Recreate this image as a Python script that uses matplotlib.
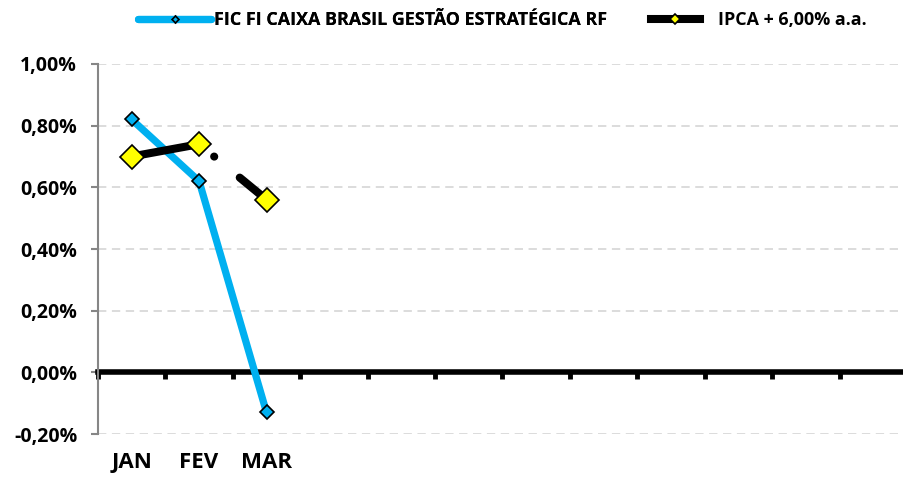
import matplotlib.pyplot as plt
import numpy as np

plt.rcParams['font.family'] = ['Open Sans', 'DejaVu Sans']
plt.rcParams['lines.scale_dashes'] = False

meses = ['JAN', 'FEV', 'MAR', '', '', '', '', '', '', '', '', '']
fundo = [0.82, 0.62, -0.13]
ipca = [0.70, 0.74, 0.56]
nome_fundo = 'FIC FI CAIXA BRASIL GESTÃO ESTRATÉGICA RF'
nome_ipca = 'IPCA + 6,00% a.a.'
yticks = [-0.2, 0.0, 0.2, 0.4, 0.6, 0.8, 1.0]

fig = plt.figure(figsize=(9.04, 4.79), dpi=100)
ax = fig.add_axes([0.1084, 0.0939, 0.8949, 0.7725])

x = np.arange(len(meses))
ax.set_xlim(-0.5, len(meses) - 0.5)
ax.set_ylim(-0.2, 1.0)

# grid
for v in yticks:
    if v != 0:
        ax.axhline(v, color='#D9D9D9', lw=1.3, ls=(0, (6, 4)), zorder=0)

# series
l1, = ax.plot(x[:len(fundo)], fundo, color='#00B0F0', lw=5.2, marker='D', ms=7,
              mfc='#00B0F0', mec='black', mew=1.2, label=nome_fundo, zorder=3,
              solid_capstyle='round', solid_joinstyle='round')
px = 0.72
l2, = ax.plot(x[:len(ipca)], ipca, color='black', lw=5.8, marker='D', ms=12,
              mfc='#FFFF00', mec='black', mew=1.2, label=nome_ipca, zorder=4,
              dash_capstyle='round')
l2.set_linestyle((0, (70 * px, 18 * px, 0.1, 33 * px, 200 * px)))

# axes styling
ax.spines['top'].set_visible(False)
ax.spines['right'].set_visible(False)
ax.spines['left'].set_color('#868686')
ax.spines['left'].set_linewidth(1.5)
ax.spines['bottom'].set_position(('data', 0))
ax.spines['bottom'].set_linewidth(4)
ax.spines['bottom'].set_zorder(2)

ax.set_yticks(yticks)
ax.set_yticklabels([('%.2f%%' % v).replace('.', ',') for v in yticks],
                   fontsize=14, fontweight='bold')
ax.tick_params(axis='y', length=5, width=1.5, color='#868686', pad=10)

ax.set_xticks(np.arange(-0.5, len(meses), 1.0))
ax.set_xticklabels([])
ax.tick_params(axis='x', which='major', length=5, width=3.5, color='black')
ax.set_xticks(x, minor=True)
ax.set_xticklabels(meses, minor=True, fontsize=16, fontweight='bold')
ax.tick_params(axis='x', which='minor', length=0, pad=57)

# legend: two separate entries, like the spreadsheet one
lp = {'size': 12.9, 'weight': 'bold'}
leg1 = fig.legend(handles=[l1], loc='center left', bbox_to_anchor=(0.1527, 0.958),
                  frameon=False, prop=lp, handlelength=4.07, handletextpad=0.17,
                  markerscale=0.5, borderpad=0, borderaxespad=0)
fig.add_artist(leg1)
leg2 = fig.legend(handles=[l2], loc='center left', bbox_to_anchor=(0.7201, 0.958),
                  frameon=False, prop=lp, handlelength=2.73, handletextpad=1.0,
                  markerscale=0.4, borderpad=0, borderaxespad=0)
for h in leg2.legend_handles:
    h.set_linestyle('-')

fig.savefig('out.png', dpi=100)
